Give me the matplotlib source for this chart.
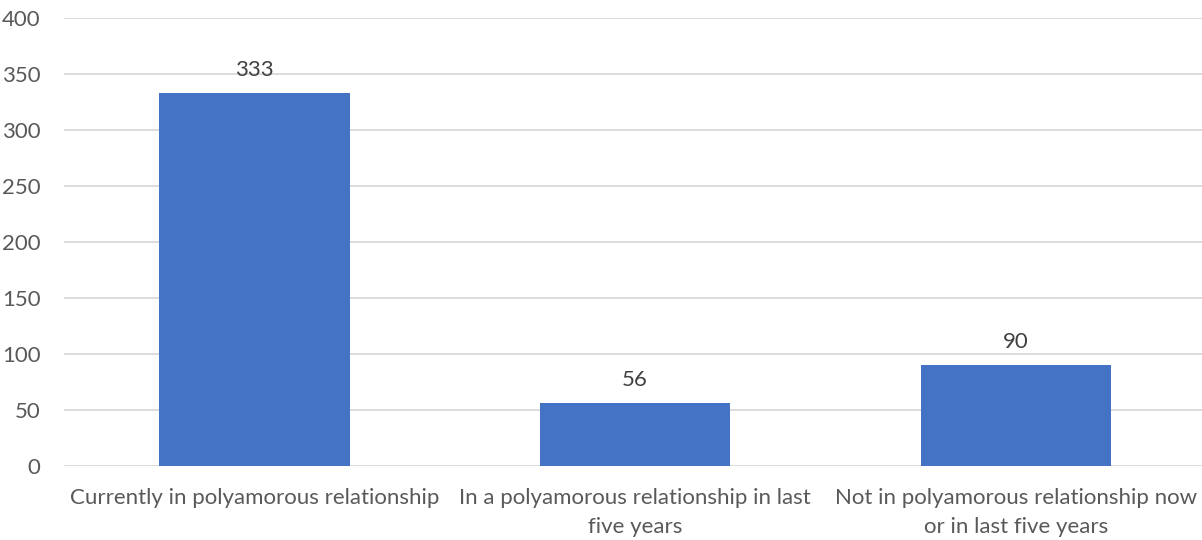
import matplotlib
matplotlib.use("Agg")
import matplotlib.pyplot as plt

# responses by relationship status
categories = [
    "Currently in polyamorous relationship",
    "In a polyamorous relationship in last\nfive years",
    "Not in polyamorous relationship now\nor in last five years",
]
counts = [333, 56, 90]

plt.rcParams['font.family'] = ['Lato', 'DejaVu Sans']
text_col = '#595959'

fig = plt.figure(figsize=(12.02, 5.40), dpi=100)
ax = fig.add_axes([64/1202, 1 - 466/540, (1206 - 64)/1202, (466 - 18)/540])

x = range(len(categories))
bars = ax.bar(x, counts, width=0.5, color='#4472C4', zorder=3)
for b, v in zip(bars, counts):
    ax.text(b.get_x() + b.get_width()/2, v + 12, str(v), ha='center', va='bottom',
            fontsize=16, color='#404040')

ax.set_xlim(-0.5, 2.5)
ax.set_ylim(0, 400)
ax.set_yticks(range(0, 401, 50))
ax.set_xticks(list(x))
ax.set_xticklabels(categories, fontsize=16, color=text_col, linespacing=1.52)
ax.tick_params(axis='y', labelsize=16, labelcolor=text_col, length=0, pad=17)
ax.tick_params(axis='x', length=0, pad=16)
ax.grid(axis='y', color='#D9D9D9', linewidth=1.3, zorder=0)
for s in ax.spines.values():
    s.set_visible(False)

fig.savefig("out.png", dpi=100)
